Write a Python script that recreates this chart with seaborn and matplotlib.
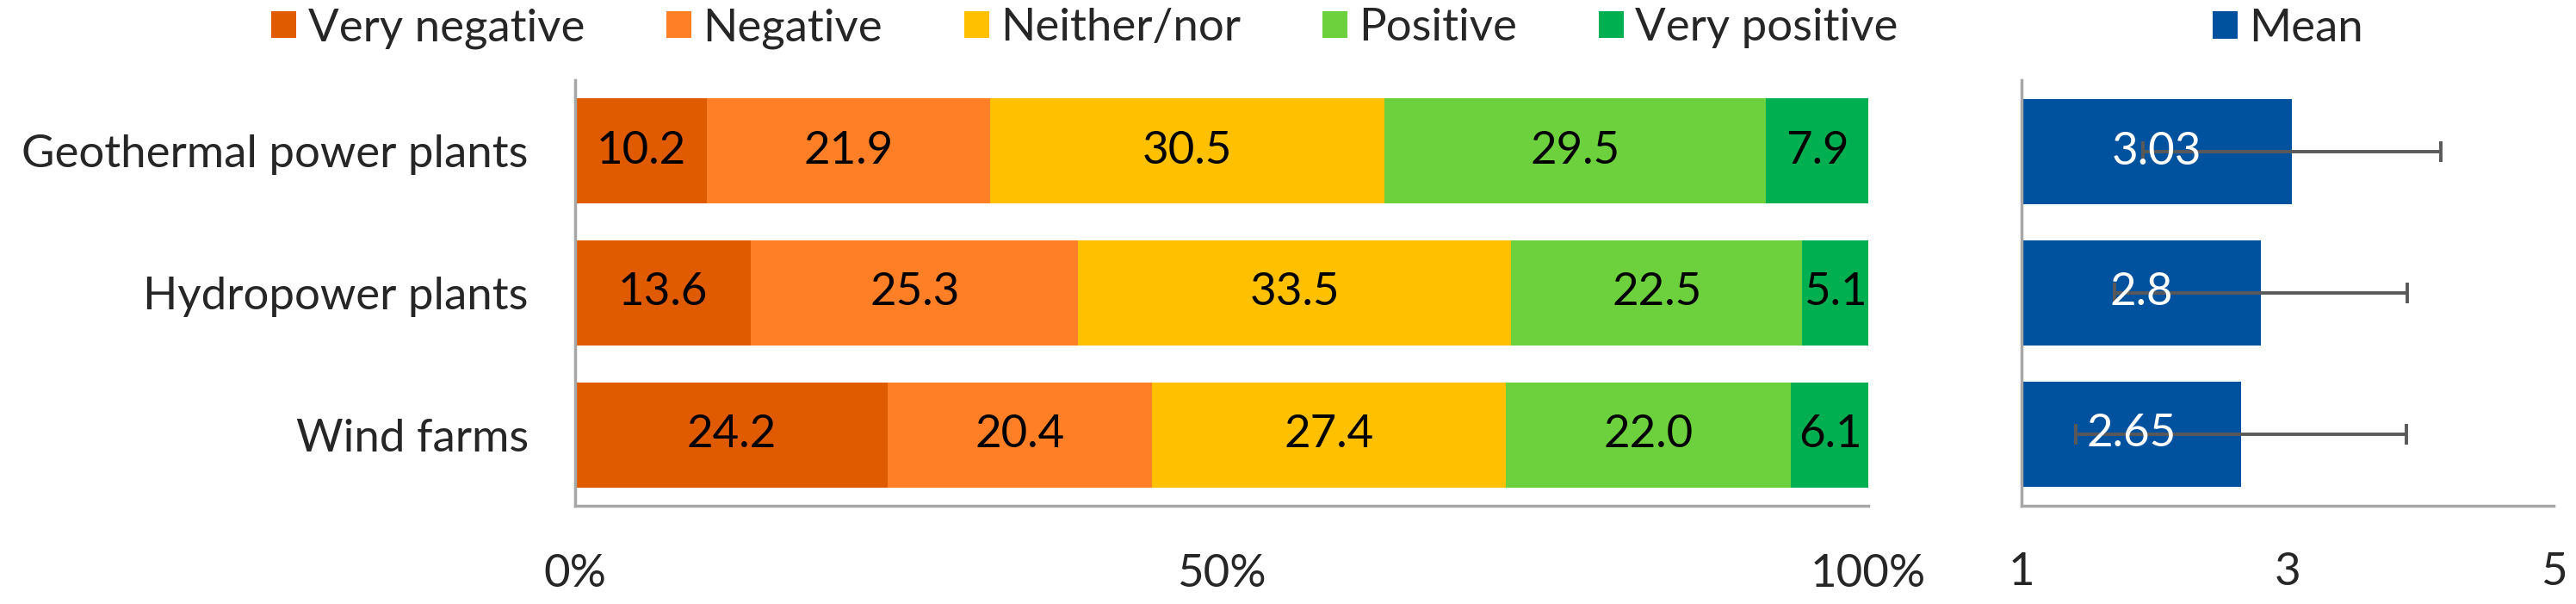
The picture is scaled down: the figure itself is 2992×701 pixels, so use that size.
import matplotlib
matplotlib.use("Agg")
import matplotlib.pyplot as plt
from matplotlib.patches import Patch
import pandas as pd
import seaborn as sns

# === Data ===
sources = ["Geothermal power plants", "Hydropower plants", "Wind farms"]
levels = ["Very negative", "Negative", "Neither/nor", "Positive", "Very positive"]
very_negative = [10.2, 13.6, 24.2]
negative = [21.9, 25.3, 20.4]
neither_nor = [30.5, 33.5, 27.4]
positive = [29.5, 22.5, 22.0]
very_positive = [7.9, 5.1, 6.1]
mean_score = [3.03, 2.8, 2.65]
sd_score = [1.12, 1.10, 1.24]
pct_ticks = [0, 50, 100]
pct_labels = ["0%", "50%", "100%"]
mean_ticks = [1, 3, 5]

level_colors = ["#E05A00", "#FF7F27", "#FFC000", "#6DD13E", "#00B050"]
mean_color = "#00519E"
axis_grey = "#A6A6A6"
FS = 38

sns.set_style("white")
plt.rcParams["font.family"] = ["Lato", "DejaVu Sans"]

df = pd.DataFrame({
    "source": sources,
    "Very negative": very_negative,
    "Negative": negative,
    "Neither/nor": neither_nor,
    "Positive": positive,
    "Very positive": very_positive,
    "mean": mean_score,
    "sd": sd_score,
})
cum = df[levels].cumsum(axis=1)

fig = plt.figure(figsize=(29.92, 7.01), dpi=100)
ax1 = fig.add_axes([668 / 2992, 1 - 587 / 701, (2170 - 668) / 2992, (587 - 93) / 701])
ax2 = fig.add_axes([2348 / 2992, 1 - 587 / 701, (2966 - 2348) / 2992, (587 - 93) / 701])

# === Stacked percentage bars (draw cumulative totals back to front) ===
for lvl, col in reversed(list(zip(levels, level_colors))):
    sns.barplot(x=cum[lvl], y=df["source"], color=col, saturation=1, width=0.74,
                errorbar=None, linewidth=0, ax=ax1)

for i in range(len(sources)):
    for lvl in levels:
        val = df.loc[i, lvl]
        ax1.text(cum.loc[i, lvl] - val / 2, i, f"{val:.1f}", ha="center", va="center",
                 fontsize=FS, color="black")

ax1.set_xlim(0, 100)
ax1.set_xticks(pct_ticks)
ax1.set_xticklabels(pct_labels)
ax1.set_xlabel("")
ax1.set_ylabel("")
ax1.tick_params(axis="x", length=0, pad=40, labelsize=FS)
ax1.tick_params(axis="y", length=0, pad=39, labelsize=FS)

# === Mean with SD (axis starts at 1, bars clipped there) ===
sns.barplot(data=df, x="mean", y="source", color=mean_color, saturation=1, width=0.74,
            errorbar=None, linewidth=0, ax=ax2)
ax2.errorbar(df["mean"], range(len(sources)), xerr=df["sd"], fmt="none", ecolor="#595959",
             elinewidth=2.8, capsize=8.5, capthick=2.8, zorder=2.5)
ax2.set_xlim(1, 5)
for i, v in enumerate(mean_score):
    ax2.text((1 + v) / 2, i, f"{v:g}", ha="center", va="center", color="white",
             fontsize=FS, zorder=4)
ax2.set_xticks(mean_ticks)
ax2.set_yticklabels([])
ax2.set_xlabel("")
ax2.set_ylabel("")
ax2.tick_params(axis="x", length=11, width=2, color=axis_grey, pad=28, labelsize=FS)
ax2.tick_params(axis="y", length=0)

for ax in (ax1, ax2):
    sns.despine(ax=ax)
    for side in ("left", "bottom"):
        ax.spines[side].set_color(axis_grey)
        ax.spines[side].set_linewidth(2.5)

# === Legends ===
handles = [Patch(facecolor=c, edgecolor="none", label=l) for l, c in zip(levels, level_colors)]
fig.legend(handles=handles, loc="center", bbox_to_anchor=(1260 / 2992, 1 - 33 / 701), ncol=5,
           frameon=False, fontsize=FS, handlelength=0.55, handleheight=0.55,
           handletextpad=0.25, columnspacing=1.8)
fig.legend(handles=[Patch(facecolor=mean_color, edgecolor="none", label="Mean")], loc="center",
           bbox_to_anchor=(2657 / 2992, 1 - 33 / 701), frameon=False, fontsize=FS,
           handlelength=0.55, handleheight=0.55, handletextpad=0.25)

fig.savefig("out.png", dpi=100)
